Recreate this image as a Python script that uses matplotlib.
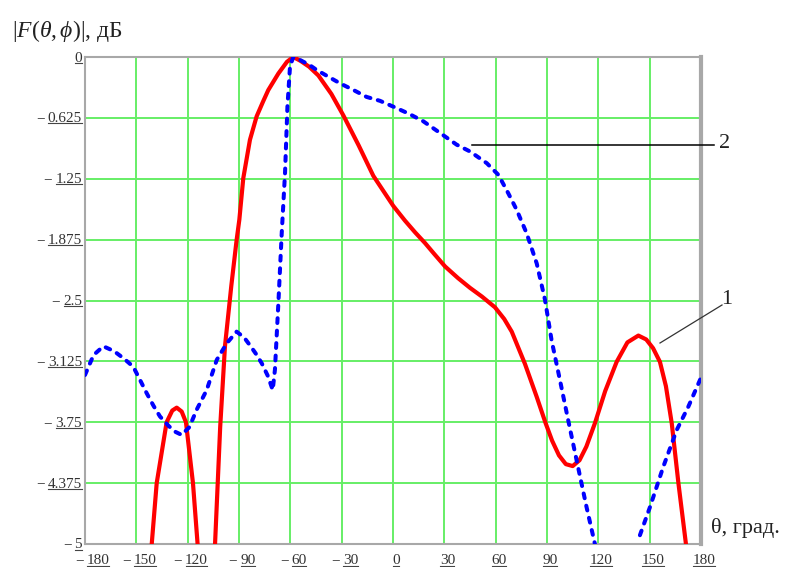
import numpy as np
import matplotlib
matplotlib.use("Agg")
import matplotlib.pyplot as plt
from matplotlib.lines import Line2D
from matplotlib.transforms import IdentityTransform

plt.rcParams['font.family'] = ['Liberation Serif', 'DejaVu Serif']
plt.rcParams['mathtext.fontset'] = 'custom'
plt.rcParams['mathtext.rm'] = 'Liberation Serif'
plt.rcParams['mathtext.it'] = 'Liberation Serif:italic'

# ---- data ----
# curve 1 (red, solid); NaN separates branches clipped at -5 dB
theta1 = [-141, -138.1, -132.3, -129, -126.4, -123.5, -121, -116.9, -114.2,
          np.nan,
          -104, -101, -98.2, -94.5, -91.4, -89.8, -87.5, -83.6, -79.7, -76, -72.9, -67, -62,
          -58.3, -54, -49, -43.6, -36, -29, -20, -11.5, 0.2, 7, 12.9, 18.7, 24, 30.4,
          38, 45, 52, 59.6, 65, 69.4, 77.1, 84, 89.2, 93, 97, 101, 105, 109, 113, 118,
          124, 130.7, 137, 143.4, 148, 152, 156, 159.5, 162.9, 166.8, 171.2]
db1 = [-5.0, -4.375, -3.75, -3.63, -3.60, -3.64, -3.75, -4.375, -5.0,
       np.nan,
       -5.0, -3.80, -2.97, -2.35, -1.88, -1.67, -1.245, -0.85, -0.61, -0.46, -0.34, -0.17, -0.05,
       0.0, -0.04, -0.10, -0.19, -0.38, -0.60, -0.91, -1.22, -1.53, -1.68, -1.80, -1.91, -2.02, -2.15,
       -2.27, -2.37, -2.46, -2.57, -2.69, -2.82, -3.15, -3.49, -3.76, -3.94, -4.09, -4.18, -4.20, -4.14, -4.00, -3.76,
       -3.43, -3.13, -2.93, -2.86, -2.90, -2.99, -3.13, -3.38, -3.76, -4.375, -5.0]

# curve 2 (blue, dashed)
theta2 = [-180, -175, -169.3, -163, -157, -151.8, -148, -144, -140, -136.2, -131, -127, -123.5,
          -119, -114.7, -108.9, -103, -97.2, -91.4, -87, -83.6, -80, -76.7, -73, -70.3,
          -69, -67, -65, -63.1, -61.7, -60.2, -58.3, -54.4, -49, -44.6, -38, -31, -23, -15.4,
          -7.6, 0.2, 9, 17.7, 27.5, 37.2, 45, 54.8, 61.6, 67.4, 72.3, 78.1, 84, 88.8, 92.7,
          97.6, 102.4, 107.3, 113.1, 118,
          np.nan,
          144.3, 150.2, 157.9, 165.8, 172.6, 179.8]
db2 = [-3.265, -3.06, -2.97, -3.02, -3.10, -3.18, -3.31, -3.45, -3.58, -3.69, -3.79, -3.85, -3.88,
       -3.80, -3.62, -3.42, -3.11, -2.94, -2.82, -2.88, -2.96, -3.05, -3.145, -3.28, -3.42,
       -3.21, -2.53, -1.80, -1.19, -0.51, -0.10, 0.0, -0.03, -0.08, -0.133, -0.20, -0.27, -0.34, -0.41,
       -0.45, -0.51, -0.58, -0.66, -0.78, -0.90, -0.97, -1.09, -1.21, -1.40, -1.57, -1.81, -2.12, -2.49, -2.91,
       -3.32, -3.73, -4.14, -4.62, -5.0,
       np.nan,
       -4.91, -4.62, -4.21, -3.83, -3.59, -3.30]

x_ticks = [-180, -150, -120, -90, -60, -30, 0, 30, 60, 90, 120, 150, 180]
x_tick_text = ["180", "150", "120", "90", "60", "30", "0", "30", "60", "90", "120", "150", "180"]
y_ticks = [0, -0.625, -1.25, -1.875, -2.5, -3.125, -3.75, -4.375, -5]
y_tick_text = ["0", "0.625", "1.25", "1.875", "2.5", "3.125", "3.75", "4.375", "5"]

W, H = 787, 567
fig = plt.figure(figsize=(W/100, H/100), dpi=100)
ax = fig.add_axes([85/W, 1-544/H, (701-85)/W, (544-57)/H])

ax.plot(theta1, db1, color='#ff0000', lw=3.0, solid_capstyle='round', zorder=3)
ax.plot(theta2, db2, color='#0000ff', lw=2.9, dashes=(1.2, 1.9), dash_capstyle='round', zorder=4)

ax.set_xlim(-180, 180)
ax.set_ylim(-5, 0)
ax.set_xticks(x_ticks)
ax.set_yticks(y_ticks)
ax.tick_params(axis='both', length=0, labelbottom=False, labelleft=False)

ax.grid(True, color='#66ee66', lw=1.4)
ax.set_axisbelow(True)
for s in ax.spines.values():
    s.set_color('#a8a8a8')
    s.set_linewidth(1.5)
ax.spines['right'].set_linewidth(3)

# ---- tick labels: "− " + underlined number ----
renderer = fig.canvas.get_renderer()
LBL = dict(fontsize=11, color='#333333')

def place_label(cx, cy, num, neg, align):
    """align 'right': whole label right edge at cx; 'center': centered at cx."""
    t = fig.text(0, 0, num, transform=IdentityTransform(), ha='left', va='center', **LBL)
    bb = t.get_window_extent(renderer)
    wnum = bb.width
    m = None
    wm = 0
    gap = 3
    if neg:
        m = fig.text(0, 0, '\u2212', transform=IdentityTransform(), ha='left', va='center', **LBL)
        wm = m.get_window_extent(renderer).width
    total = wnum + (wm + gap if neg else 0)
    left = cx - total if align == 'right' else cx - total / 2
    nx = left + (wm + gap if neg else 0)
    t.set_position((nx, cy))
    if m is not None:
        m.set_position((left, cy))
    bb = t.get_window_extent(renderer)
    yl = bb.y0 + 2.0
    fig.add_artist(Line2D([bb.x0 + 0.5, bb.x1 - 0.5], [yl, yl], transform=IdentityTransform(),
                          color='#444444', lw=0.8))

for v, s in zip(y_ticks, y_tick_text):
    px, py = ax.transData.transform((-180, v))
    place_label(px - 3, py - 1, s, v < 0, 'right')

for v, s in zip(x_ticks, x_tick_text):
    px, py = ax.transData.transform((v, -5))
    shift = 7 if v == -180 else 3
    place_label(px + shift, py - 17, s, v < 0, 'center')

# axis titles
fig.text(12/W, 1-31/H, r'$|\mathit{F(\theta,\phi)}|$, дБ', fontsize=17,
         ha='left', va='center', color='#222222')
fig.text(711/W, 1-528/H, 'θ, град.', fontsize=16, ha='left', va='center', color='#222222')

# curve labels with leader lines
fig.add_artist(Line2D([472, 714], [H-145, H-145], transform=IdentityTransform(), color='black', lw=1.1))
fig.text(725, H-143, '2', transform=IdentityTransform(), fontsize=16, ha='center', va='center', color='#222222')
fig.add_artist(Line2D([660, 722], [H-343, H-305], transform=IdentityTransform(), color='#333333', lw=0.9))
fig.text(727, H-299, '1', transform=IdentityTransform(), fontsize=16, ha='center', va='center', color='#222222')

fig.savefig('out.png', dpi=100)
